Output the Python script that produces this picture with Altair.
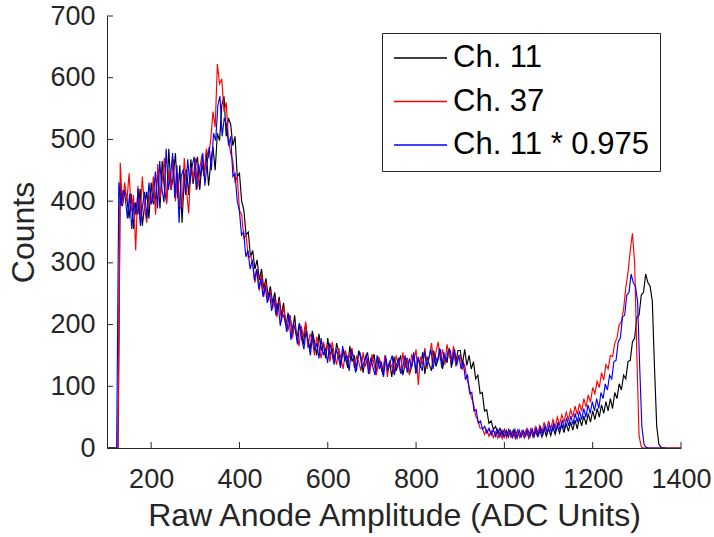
import altair as alt
import pandas as pd

# ADC bins (5-unit bins from 100 to 1400)
adc = list(range(100, 1405, 5))

# Ch. 11 counts, one row per 50 ADC units
ch11 = [
    0, 0, 0, 0, 0, 0, 430, 392, 418, 405,
    372, 412, 355, 398, 378, 420, 360, 392, 415, 372,
    430, 395, 405, 448, 388, 465, 420, 398, 485, 418,
    440, 478, 405, 458, 365, 440, 452, 410, 468, 428,
    455, 472, 418, 460, 440, 478, 425, 462, 488, 450,
    510, 498, 555, 570, 505, 535, 525, 490, 505, 440,
    445, 400, 385, 345, 350, 310, 320, 290, 305, 272,
    290, 258, 275, 245, 262, 235, 252, 222, 245, 215,
    235, 198, 218, 210, 188, 215, 175, 200, 192, 168,
    202, 175, 160, 190, 172, 150, 185, 158, 170, 145,
    178, 150, 162, 138, 170, 155, 135, 160, 148, 130,
    165, 140, 150, 125, 158, 148, 122, 145, 155, 128,
    140, 152, 120, 146, 132, 118, 150, 128, 140, 115,
    148, 125, 138, 150, 118, 135, 146, 120, 132, 150,
    122, 145, 130, 155, 120, 148, 135, 125, 158, 132,
    145, 160, 128, 150, 138, 162, 130, 155, 140, 158,
    158, 136, 160, 134, 150, 128, 140, 112, 118, 88,
    90, 60, 62, 40, 44, 30, 35, 24, 32, 21,
    30, 19, 30, 18, 29, 17, 29, 18, 28, 17,
    30, 16, 29, 18, 28, 19, 30, 18, 31, 19,
    32, 20, 34, 22, 36, 24, 38, 25, 40, 27,
    42, 29, 45, 31, 49, 36, 52, 38, 56, 42,
    60, 46, 64, 50, 70, 56, 75, 60, 80, 64,
    90, 80, 104, 94, 118, 112, 140, 142, 172, 178,
    212, 215, 248, 252, 282, 268, 262, 238, 130, 35,
    6, 1, 0, 0, 0, 0, 0, 0, 0, 0,
    0,
]

# Ch. 37 counts, same bins
ch37 = [
    0, 0, 0, 0, 0, 0, 462, 395, 430, 400,
    445, 385, 410, 320, 425, 370, 440, 390, 365, 410,
    395, 440, 378, 460, 405, 432, 470, 395, 450, 420,
    468, 400, 445, 388, 392, 470, 418, 380, 455, 435,
    470, 420, 452, 475, 440, 485, 470, 500, 545, 520,
    622, 590, 598, 545, 560, 500, 478, 465, 430, 440,
    385, 378, 340, 345, 308, 312, 300, 268, 290, 255,
    282, 245, 268, 238, 255, 226, 242, 212, 240, 205,
    228, 205, 190, 215, 178, 200, 185, 165, 198, 180,
    205, 162, 185, 175, 150, 180, 165, 145, 172, 158,
    165, 140, 172, 150, 135, 162, 145, 128, 158, 142,
    150, 162, 130, 148, 140, 125, 155, 132, 145, 120,
    152, 135, 118, 148, 138, 125, 150, 115, 140, 132,
    120, 150, 135, 122, 155, 130, 145, 118, 152, 140,
    160, 102, 148, 135, 162, 128, 150, 170, 138, 155,
    172, 142, 160, 135, 168, 150, 140, 165, 132, 150,
    150, 128, 135, 112, 100, 82, 72, 52, 45, 32,
    32, 22, 30, 19, 28, 17, 26, 16, 27, 15,
    28, 16, 27, 18, 26, 15, 28, 17, 27, 18,
    30, 18, 31, 20, 34, 22, 36, 24, 42, 28,
    44, 30, 46, 34, 50, 38, 54, 42, 58, 46,
    62, 50, 68, 54, 72, 60, 80, 66, 86, 74,
    98, 88, 108, 98, 122, 110, 135, 128, 150, 148,
    170, 178, 200, 205, 225, 260, 285, 320, 348, 300,
    150, 20, 2, 0, 0, 0, 0, 0, 0, 0,
    0, 0, 0, 0, 0, 0, 0, 0, 0, 0,
    0,
]

gain = 0.975
series_names = ["Ch. 11", "Ch. 37", "Ch. 11 * 0.975"]
series_colors = ["#000000", "#ff0000", "#0000ff"]
x_ticks = [200, 400, 600, 800, 1000, 1200, 1400]
y_ticks = [0, 100, 200, 300, 400, 500, 600, 700]

# drawing order: Ch. 11 first, Ch. 37 next, scaled Ch. 11 on top
df = pd.concat([
    pd.DataFrame({"adc": adc, "counts": ch11, "series": series_names[0]}),
    pd.DataFrame({"adc": adc, "counts": ch37, "series": series_names[1]}),
    pd.DataFrame({"adc": [a * gain for a in adc], "counts": ch11, "series": series_names[2]}),
], ignore_index=True)

FONT = "Liberation Sans"
AX = "#262626"
W, H = 574, 432

xs = alt.Scale(domain=[100, 1400], nice=False, zero=False)
ys = alt.Scale(domain=[0, 700], nice=False, zero=False)

x_axis = alt.Axis(values=x_ticks, format="d", title="Raw Anode Amplitude (ADC Units)",
                  ticks=False, tickSize=0, grid=False, labelFont=FONT, titleFont=FONT,
                  labelFontSize=27, titleFontSize=32, labelColor=AX, titleColor=AX,
                  domainColor=AX, domainWidth=1, labelPadding=18, titlePadding=8,
                  titleFontWeight="normal", labelOverlap=False, labelFlush=False)
y_axis = alt.Axis(values=y_ticks, format="d", title="Counts", ticks=False, tickSize=0,
                  grid=False, labelFont=FONT, titleFont=FONT, labelFontSize=27, titleFontSize=32,
                  labelColor=AX, titleColor=AX, domainColor=AX, domainWidth=1, labelPadding=12,
                  titlePadding=9, titleFontWeight="normal", labelOverlap=False, labelFlush=False)

legend = alt.Legend(orient="none", legendX=275, legendY=17, direction="vertical",
                    values=series_names,
                    symbolType="stroke", symbolSize=2809, symbolStrokeWidth=1.3,
                    labelFont=FONT, labelFontSize=31, labelColor="#000000", labelLimit=400,
                    labelOffset=5, strokeColor=AX, fillColor="#ffffff", padding=11,
                    clipHeight=28, rowPadding=12.5)

lines = alt.Chart(df).mark_line(strokeWidth=1.15, clip=True).encode(
    x=alt.X("adc:Q", scale=xs, axis=x_axis),
    y=alt.Y("counts:Q", scale=ys, axis=y_axis),
    color=alt.Color("series:N", scale=alt.Scale(domain=series_names, range=series_colors),
                    title=None, legend=legend),
    order="adc:Q",
)

xtick = alt.Chart(pd.DataFrame({"adc": x_ticks})).mark_rule(color=AX, strokeWidth=1).encode(
    x=alt.X("adc:Q", scale=xs, axis=x_axis), y=alt.value(H), y2=alt.value(H - 6))
ytick = alt.Chart(pd.DataFrame({"counts": y_ticks})).mark_rule(color=AX, strokeWidth=1).encode(
    y=alt.Y("counts:Q", scale=ys, axis=y_axis), x=alt.value(0), x2=alt.value(6))

chart = alt.layer(lines, xtick, ytick).properties(
    width=W, height=H, autosize="none",
    padding={"left": 107, "top": 16, "right": 33, "bottom": 89},
    background="white",
).configure_view(stroke=None)

chart.save("out.html", embed_options={"renderer": "svg", "actions": False})
